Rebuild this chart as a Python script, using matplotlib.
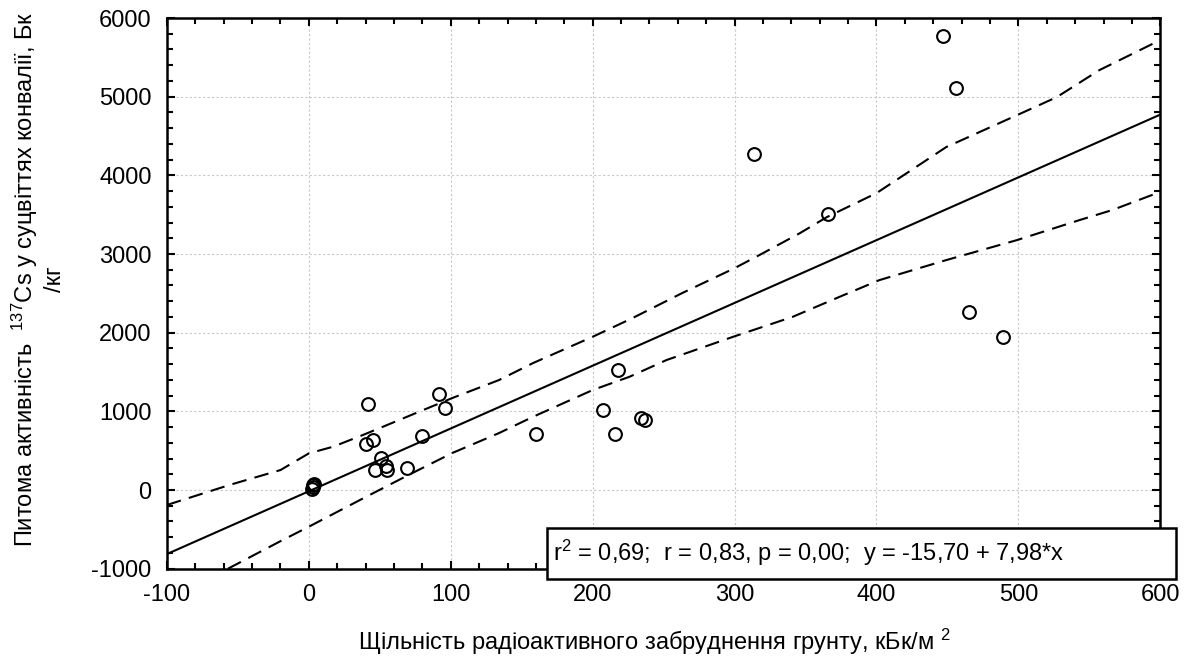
import numpy as np
import matplotlib
matplotlib.use("Agg")
from matplotlib import pyplot as plt
from matplotlib.patches import Rectangle
from matplotlib.ticker import MultipleLocator

plt.rcParams['font.family'] = ['Liberation Sans', 'DejaVu Sans']
plt.rcParams['mathtext.fontset'] = 'custom'
plt.rcParams['mathtext.rm'] = 'Liberation Sans'
plt.rcParams['mathtext.it'] = 'Liberation Sans'
plt.rcParams['axes.unicode_minus'] = False

# soil contamination density (kBq/m2) vs 137Cs activity in lily-of-the-valley flowers (Bq/kg)
density = [2.5, 3, 3, 3.5,
           40.5, 42, 45, 46.5, 50.5, 54.5, 55, 69, 80, 91.5, 96,
           160, 207, 215.5, 218, 234, 237,
           314, 365.5, 447, 456, 465, 489]
activity = [15, 40, 60, 75,
            585, 1090, 635, 255, 405, 300, 255, 283, 686, 1218, 1038,
            708, 1017, 708, 1525, 911, 889,
            4266, 3505, 5768, 5107, 2262, 1944]

# regression coefficients
intercept = -15.70
slope = 7.98

# 95% confidence band
upper_x = [-100, -56, -20, 0, 17, 38, 50, 73, 101, 134, 158, 200, 228, 263,
           300, 320, 346, 365, 400, 449, 499, 527, 557, 600]
upper_y = [-190, 64, 254, 466, 550, 699, 788, 960, 1169, 1398, 1614, 1948, 2185, 2503,
           2820, 3011, 3265, 3469, 3774, 4358, 4765, 4994, 5337, 5720]
lower_x = [-57, -20, 0, 36, 69, 101, 134, 158, 200, 226, 252, 299, 341, 374,
           402, 449, 499, 543, 566, 600]
lower_y = [-1000, -650, -466, -127, 180, 470, 724, 931, 1271, 1440, 1652, 1948, 2202, 2456,
           2668, 2922, 3177, 3431, 3558, 3790]

stats_text = r"r$^{2}$ = 0,69;  r = 0,83, p = 0,00;  y = -15,70 + 7,98*x"

fig = plt.figure(figsize=(11.84, 6.57), dpi=100)
ax = fig.add_axes([0.141, 0.1344, 0.839, 0.8382])

xfit = np.array([-100, 600])
ax.plot(xfit, intercept + slope * xfit, color='black', lw=1.5, zorder=3)
ax.plot(upper_x, upper_y, color='black', lw=1.5, ls=(0, (7, 4)), zorder=3)
ax.plot(lower_x, lower_y, color='black', lw=1.5, ls=(0, (7, 4)), zorder=3)
ax.plot(density, activity, 'o', ms=9.2, mfc='none', mec='black', mew=1.5, zorder=4)

ax.set_xlim(-100, 600)
ax.set_ylim(-1000, 6000)
ax.xaxis.set_major_locator(MultipleLocator(100))
ax.xaxis.set_minor_locator(MultipleLocator(20))
ax.yaxis.set_major_locator(MultipleLocator(1000))
ax.yaxis.set_minor_locator(MultipleLocator(200))
ax.tick_params(which='both', direction='in', top=True, right=True, width=1.5)
ax.tick_params(which='major', length=6, labelsize=17, pad=11)
ax.tick_params(which='minor', length=4)
for sp in ax.spines.values():
    sp.set_linewidth(1.8)
ax.grid(True, which='major', color='#c8c8c8', ls=(0, (2, 2)), lw=0.8)
ax.set_axisbelow(True)

ax.set_xlabel(r"Щільність радіоактивного забруднення грунту, кБк/м $^{2}$", fontsize=17)
ax.set_ylabel("Питома активність  $^{137}$Cs у суцвіттях конвалії, Бк\n/кг",
              fontsize=17, multialignment='center')
ax.xaxis.set_label_coords(0.491, -0.105)
ax.yaxis.set_label_coords(-0.102, 0.525)

# statistics box overlapping the lower right corner
box = Rectangle((0.383, -0.0187), 0.633, 0.0926, transform=ax.transAxes,
                facecolor='white', edgecolor='black', lw=1.8, clip_on=False, zorder=10)
ax.add_patch(box)
ax.text(0.389, 0.028, stats_text, transform=ax.transAxes, fontsize=17,
        va='center', ha='left', zorder=11)

fig.savefig("out.png", dpi=100)
